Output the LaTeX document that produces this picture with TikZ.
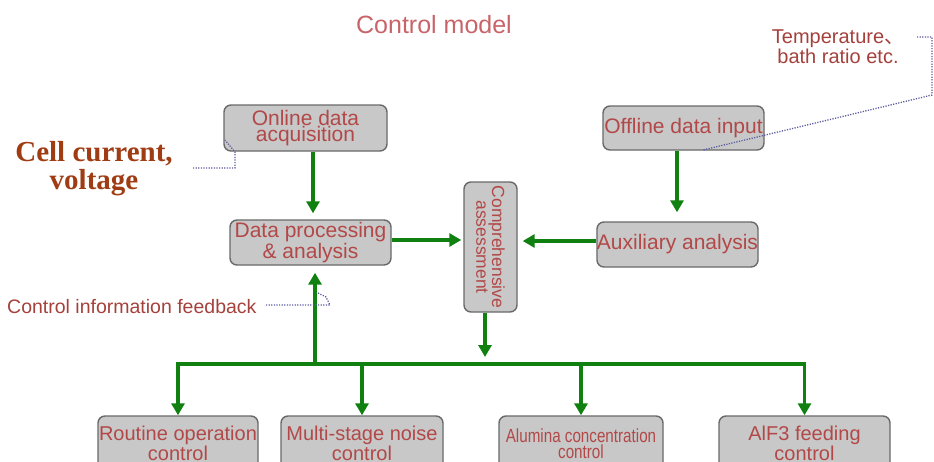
\documentclass[tikz,border=0pt]{standalone}
\usepackage{fontspec}
\setmainfont{Liberation Sans}
\newfontfamily\serifbf{Liberation Serif}
\newfontfamily\cjkf{Noto Sans CJK SC}
\newfontfamily\condf[FakeStretch=0.8]{Liberation Sans}
\usetikzlibrary{arrows.meta,calc}
\definecolor{boxfill}{RGB}{200,200,200}
\definecolor{boxborder}{RGB}{105,105,105}
\definecolor{boxtext}{RGB}{178,72,72}
\definecolor{titlecol}{RGB}{200,100,105}
\definecolor{notecol}{RGB}{165,65,60}
\definecolor{cellcol}{RGB}{160,60,20}
\definecolor{arrowgreen}{RGB}{16,128,16}
\definecolor{dotblue}{RGB}{90,90,160}
\tikzset{
  box/.style={draw=boxborder, line width=1.4pt, fill=boxfill, rounded corners=7pt,
    inner sep=0pt, align=center, text=boxtext, font=\fontsize{21}{16.5}\selectfont},
  lowbox/.style={box, font=\fontsize{20}{17}\selectfont},
  garrow/.style={draw=arrowgreen, line width=3.5pt, -{Triangle[width=13pt,length=12pt]}},
  gline/.style={draw=arrowgreen, line width=3.5pt},
  callout/.style={draw=dotblue, line width=1.3pt, dash pattern=on 1.2pt off 1.4pt},
  note/.style={inner sep=0pt, align=center, text=notecol}
}
\begin{document}
\begin{tikzpicture}[x=1pt,y=-1pt]
\useasboundingbox (0,0) rectangle (934,461);
\clip (0,0) rectangle (934,461);

% title
\node[inner sep=0pt, anchor=base, text=titlecol, font=\fontsize{25}{28}\selectfont] (title) at (434,33) {Control model};

% boxes
\node[box, minimum width=163pt, minimum height=46pt] (online) at (305.5,128) {Online data\\acquisition};
\node[box, minimum width=161pt, minimum height=45pt] (dp) at (310.5,242.5) {Data processing\\\&{} analysis};
\node[box, minimum width=161pt, minimum height=44pt] (offline) at (683.5,128) {Offline data input};
\node[box, minimum width=161pt, minimum height=45pt] (aux) at (677.5,244.5) {Auxiliary analysis};
\node[box, minimum width=53pt, minimum height=130pt] (comp) at (490.5,247) {};
\node[rotate=-90, inner sep=0pt, align=center, text=boxtext, font=\fontsize{17.5}{14.5}\selectfont] (comptext) at (comp.center) {Comprehensive\\assessment};

\node[lowbox, minimum width=160pt, minimum height=55pt] (routine) at (178,443.5) {Routine operation\\control};
\node[lowbox, minimum width=162pt, minimum height=55pt] (multi) at (362,443.5) {Multi-stage noise\\control};
\node[lowbox, minimum width=164pt, minimum height=55pt, font=\condf\fontsize{19}{16.5}\selectfont] (alumina) at (581,443.5) {Alumina concentration\\control};
\node[lowbox, minimum width=171pt, minimum height=55pt] (alf) at (804.5,443.5) {AlF3 feeding\\control};

% notes
\node[note, text=cellcol, font=\serifbf\bfseries\fontsize{29}{28}\selectfont] (cell) at (94,169) {Cell current,\\voltage};
\node[note, font=\fontsize{20}{18.5}\selectfont] (temp) at (838,47) {Temperature{\cjkf 、}\\bath ratio etc.};
\node[note, anchor=base west, font=\fontsize{19.5}{22}\selectfont] (fbtext) at (7,313) {Control information feedback};

% green connectors
\coordinate (bus) at (0,364);
\coordinate (od) at ($(online.south)+(7.5,0)$);
\draw[garrow, shorten >=6pt] (od) -- (od |- dp.north);
\coordinate (oa) at ($(offline.south)+(-6.5,0)$);
\draw[garrow, shorten >=9pt] (oa) -- (oa |- aux.north);
\coordinate (dc) at ($(dp.east)+(0,-2.5)$);
\draw[garrow, shorten >=2pt] (dc) -- (dc -| comp.west);
\coordinate (ac) at ($(aux.west)+(0,-3.5)$);
\draw[garrow, shorten >=5pt] (ac) -- (ac -| comp.east);
\coordinate (cd) at ($(comp.south)+(-5.5,0)$);
\draw[garrow, shorten >=7pt] (cd) -- (cd |- bus);
\draw[draw=arrowgreen, line width=3.5pt, {Triangle[width=13pt,length=12pt]}-{Triangle[width=13pt,length=12pt]}]
  (routine.north) -- (routine.north |- bus) -- (alf.north |- bus) -- (alf.north);
\draw[garrow] (multi.north |- bus) -- (multi.north);
\draw[garrow] (alumina.north |- bus) -- (alumina.north);
\coordinate (fb) at ($(dp.south)+(4.5,0)$);
\draw[garrow, shorten >=7pt] (fb |- bus) -- (fb);

% dotted callouts
\coordinate (c1) at (193,168);
\coordinate (c2) at (235,168);
\coordinate (c3) at (235,152);
\coordinate (c4) at (225,140);
\draw[callout] (c1) -- (c2) -- (c3) -- (c4);
\coordinate (t1) at (917,37);
\coordinate (t2) at (932,37);
\coordinate (t3) at (932,95);
\coordinate (t4) at (703,150);
\draw[callout] (t1) -- (t2) -- (t3) -- (t4);
\coordinate (f1) at (266,305);
\coordinate (f2) at (330,305);
\coordinate (f3) at (326,297);
\coordinate (f4) at (318,293);
\draw[callout] (f1) -- (f2) -- (f3) -- (f4);
\end{tikzpicture}
\end{document}
